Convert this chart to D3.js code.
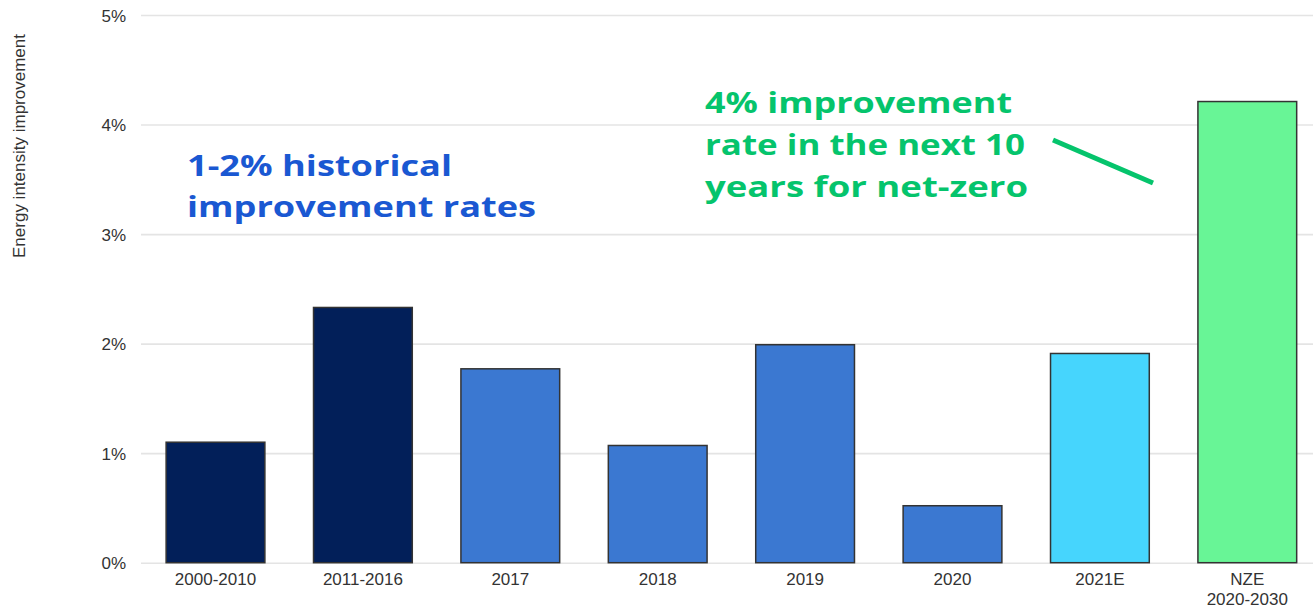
<!DOCTYPE html>
<html>
<head>
<meta charset="utf-8">
<script src="https://cdn.jsdelivr.net/npm/d3@7"></script>
<style>
  body { margin: 0; background: #fff; }
  svg { display: block; }
</style>
</head>
<body>
<div class="chart"></div>
<script>
// Energy intensity improvement bar chart

const CATEGORIES = ['2000-2010', '2011-2016', '2017', '2018', '2019', '2020', '2021E', 'NZE 2020-2030']
const LABELS = [['2000-2010'], ['2011-2016'], ['2017'], ['2018'], ['2019'], ['2020'], ['2021E'], ['NZE', '2020-2030']]
const VALUES = [1.10, 2.33, 1.77, 1.07, 1.99, 0.52, 1.91, 4.21]
const GROUPS = ['history', 'history', 'recent', 'recent', 'recent', 'recent', 'estimate', 'nze']
const Y_TICKS = [0, 1, 2, 3, 4, 5]

const GROUP_COLORS = {
    history: '#021f59',
    recent: '#3b78d1',
    estimate: '#46d5fd',
    nze: '#68f596',
}

var svgWidth = 1313
var svgHeight = 608

var svg = d3.select('.chart')
    .append('svg')
    .attr('width', svgWidth)
    .attr('height', svgHeight)

var xScale = d3.scaleBand()
    .domain(CATEGORIES)
    .range([141.8, 1321])
    .paddingInner(0.33)
    .paddingOuter(0.165)

var yScale = d3.scaleLinear()
    .domain([0, 5])
    .range([562.7, 15])

// grid lines + y tick labels
var yAxis = svg.append('g')
    .classed('y', true)
    .attr('transform', 'translate(141, 0)')
    .call(d3.axisRight(yScale)
        .tickValues(Y_TICKS)
        .tickSize(svgWidth - 141)
        .tickFormat(d => d + '%'))

yAxis.select('.domain').remove()
yAxis.selectAll('.tick line')
    .attr('stroke', '#e4e4e4')
    .attr('stroke-width', 1.6)
yAxis.selectAll('.tick text')
    .attr('x', -15)
    .attr('dy', '0.36em')
    .attr('text-anchor', 'end')
    .attr('font-family', 'Liberation Sans, Arial, sans-serif')
    .attr('font-size', '17px')
    .attr('fill', '#333')

// y title
svg.append('text')
    .attr('transform', 'translate(25, 146) rotate(-90)')
    .attr('text-anchor', 'middle')
    .attr('font-family', 'Liberation Sans, Arial, sans-serif')
    .attr('font-size', '17px')
    .attr('fill', '#333')
    .text('Energy intensity improvement')

// bars
svg.append('g')
    .selectAll('rect')
    .data(CATEGORIES)
    .enter()
    .append('rect')
    .attr('x', d => xScale(d))
    .attr('width', xScale.bandwidth())
    .attr('y', (d, i) => yScale(VALUES[i]))
    .attr('height', (d, i) => yScale(0) - yScale(VALUES[i]))
    .attr('fill', (d, i) => GROUP_COLORS[GROUPS[i]])
    .attr('stroke', '#333')
    .attr('stroke-width', 1.5)

// x labels
var xLabels = svg.append('g')
    .selectAll('text')
    .data(CATEGORIES)
    .enter()
    .append('text')
    .attr('x', d => xScale(d) + xScale.bandwidth() / 2)
    .attr('y', 585)
    .attr('text-anchor', 'middle')
    .attr('font-family', 'Liberation Sans, Arial, sans-serif')
    .attr('font-size', '17px')
    .attr('fill', '#333')

xLabels.selectAll('tspan')
    .data((d, i) => LABELS[i])
    .enter()
    .append('tspan')
    .attr('x', function() { return d3.select(this.parentNode).attr('x') })
    .attr('dy', (d, i) => i == 0 ? 0 : 20)
    .text(d => d)

// annotations
var blueNote = ['1-2% historical', 'improvement rates']
var blueLen = [265, 349]
blueNote.forEach((line, i) => {
    svg.append('text')
        .attr('x', 187)
        .attr('y', 176 + i * 41)
        .attr('font-family', 'Open Sans, sans-serif')
        .attr('font-weight', 700)
        .attr('font-size', '29px')
        .attr('fill', '#1a58d2')
        .attr('textLength', blueLen[i])
        .attr('lengthAdjust', 'spacingAndGlyphs')
        .text(line)
})

var greenNote = ['4% improvement', 'rate in the next 10', 'years for net-zero']
var greenLen = [307, 320, 323]
greenNote.forEach((line, i) => {
    svg.append('text')
        .attr('x', 705)
        .attr('y', 113 + i * 42)
        .attr('font-family', 'Open Sans, sans-serif')
        .attr('font-weight', 700)
        .attr('font-size', '29px')
        .attr('fill', '#05c46c')
        .attr('textLength', greenLen[i])
        .attr('lengthAdjust', 'spacingAndGlyphs')
        .text(line)
})

svg.append('line')
    .attr('x1', 1053)
    .attr('y1', 140)
    .attr('x2', 1153)
    .attr('y2', 183)
    .attr('stroke', '#05c46c')
    .attr('stroke-width', 5)
</script>
</body>
</html>
